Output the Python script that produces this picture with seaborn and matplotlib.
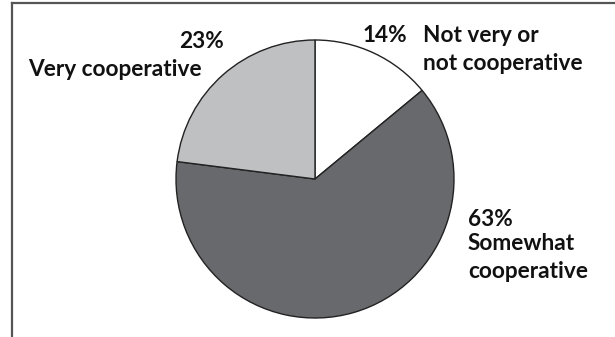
import matplotlib
matplotlib.use("Agg")
import matplotlib.pyplot as plt
import seaborn as sns

# data
categories = ["Not very or\nnot cooperative", "Somewhat\ncooperative", "Very cooperative"]
shares = [14, 63, 23]
slice_colors = ["#ffffff", "#68696c", "#bfc0c2"]

sns.set_theme(style="white")
plt.rcParams["font.family"] = ["Lato", "DejaVu Sans"]

W, H = 615, 337
fig = plt.figure(figsize=(W / 100, H / 100), dpi=100)
ax = fig.add_axes([12 / W, 0, 1 - 12 / W, 1 - 3 / H])
ax.set_xlim(12, W)
ax.set_ylim(0, H - 3)

ax.pie(shares, colors=slice_colors, startangle=90, counterclock=False,
       center=(315, H - 179), radius=139, frame=True,
       wedgeprops=dict(edgecolor="#222222", linewidth=1.0))
ax.set_aspect("equal")
ax.set_xticks([])
ax.set_yticks([])
ax.set_xlim(12, W)
ax.set_ylim(0, H - 3)

for side in ["right", "bottom"]:
    ax.spines[side].set_visible(False)
for side in ["left", "top"]:
    ax.spines[side].set_color("#555555")
    ax.spines[side].set_linewidth(1.6)

fs = 16.3
tk = dict(fontsize=fs, fontweight="bold", color="#111111", va="center")
pct = [f"{v}%" for v in shares]

# Not very / not cooperative
ax.text(363, H - 35, pct[0], ha="left", **tk)
ax.text(423, H - 35, categories[0].split("\n")[0], ha="left", **tk)
ax.text(423, H - 63, categories[0].split("\n")[1], ha="left", **tk)

# Somewhat cooperative
ax.text(468, H - 220, pct[1], ha="left", **tk)
ax.text(468, H - 244, categories[1].split("\n")[0], ha="left", **tk)
ax.text(468, H - 272, categories[1].split("\n")[1], ha="left", **tk)

# Very cooperative
ax.text(201, H - 42, pct[2], ha="center", **tk)
ax.text(28, H - 70, categories[2], ha="left", **tk)

fig.savefig("out.png", dpi=100)
